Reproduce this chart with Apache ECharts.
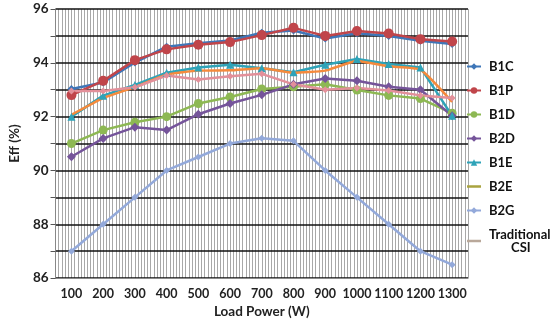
<!DOCTYPE html>
<html><head><meta charset="utf-8">
<script src="https://cdn.jsdelivr.net/npm/echarts@6/dist/echarts.min.js"></script>
<style>html,body{margin:0;padding:0;background:#fff}#c{width:550px;height:324px}</style>
</head><body><div id="c"></div>
<script>
const categories = ['100','200','300','400','500','600','700','800','900','1000','1100','1200','1300'];
const B1C = [93.03, 93.27, 94.01, 94.6, 94.73, 94.83, 95.12, 95.2, 94.9, 95.1, 95.0, 94.82, 94.7];
const B1P = [92.8, 93.33, 94.1, 94.5, 94.67, 94.77, 95.03, 95.3, 95.0, 95.18, 95.09, 94.88, 94.79];
const B1D = [91.0, 91.5, 91.79, 92.0, 92.49, 92.73, 93.03, 93.11, 93.2, 92.99, 92.79, 92.67, 92.13];
const B2D = [90.51, 91.19, 91.61, 91.5, 92.09, 92.49, 92.81, 93.2, 93.42, 93.33, 93.11, 93.0, 92.03];
const B1E = [92.0, 92.78, 93.18, 93.63, 93.83, 93.93, 93.8, 93.65, 93.93, 94.14, 93.96, 93.83, 92.03];
const B2E = [92.07, 92.69, 93.1, 93.56, 93.71, 93.72, 93.8, 93.63, 93.71, 94.07, 93.87, 93.75, 92.55];
const B2G = [87.0, 88.0, 89.0, 90.0, 90.5, 91.0, 91.2, 91.1, 90.0, 89.0, 88.0, 87.0, 86.5];
const CSI = [92.95, 92.95, 93.09, 93.53, 93.38, 93.5, 93.59, 93.2, 93.0, 93.06, 92.97, 92.79, 92.69];

const FONT = 'Lato';
const chart = echarts.init(document.getElementById('c'), null, {renderer:'canvas'});
function s(name, data, color, symbol, size, extra) {
  return Object.assign({
    name, type:'line', data, xAxisIndex:0, yAxisIndex:0,
    symbol, symbolSize:size, showSymbol: symbol !== 'none',
    lineStyle:{color, width:2.5}, itemStyle:{color},
    emphasis:{disabled:true}, z:3
  }, extra||{});
}
const lineIcon = 'path://M0,0H14V2.5H0Z';
chart.setOption({
  animation:false,
  backgroundColor:'#fff',
  grid:{left:35, right:82, top:9, bottom:37},
  legend:{
    orient:'vertical', left:466, top:60, padding:0, itemGap:11, itemWidth:14, itemHeight:8,
    textStyle:{fontFamily:FONT, fontWeight:'bold', fontSize:13, color:'#111', padding:[0,0,0,3], overflow:'none'},
    formatter: n => n === 'Traditional CSI' ? 'Traditional\n       CSI' : n,
    data:[
      {name:'B1C'},{name:'B1P'},{name:'B1D'},{name:'B2D'},{name:'B1E'},
      {name:'B2E', icon:lineIcon, itemStyle:{color:'#A9A33F'}, lineStyle:{color:'#A9A33F'}},
      {name:'B2G'},
      {name:'Traditional CSI', icon:lineIcon, itemStyle:{color:'#B9A89A'}, lineStyle:{color:'#B9A89A'}}
    ]
  },
  xAxis:[
    {type:'category', data:categories, boundaryGap:true,
     axisLine:{show:true, lineStyle:{color:'#888'}}, axisTick:{show:false},
     axisLabel:{fontFamily:FONT, fontWeight:'bold', fontSize:12.5, color:'#222', margin:9, interval:0},
     name:'Load Power (W)', nameLocation:'middle', nameGap:26,
     nameTextStyle:{fontFamily:FONT, fontWeight:'bold', fontSize:13.5, color:'#222'},
     splitLine:{show:false}, z:2},
    {type:'value', min:0, max:130, interval:1, show:true, position:'top',
     axisLine:{show:false}, axisTick:{show:false}, axisLabel:{show:false},
     splitLine:{show:true, lineStyle:{color:'#A8A8A8', width:1}}, z:0}
  ],
  yAxis:[{
    type:'value', min:86, max:96, interval:1,
    axisLine:{show:true, lineStyle:{color:'#888'}}, axisTick:{show:true, length:5, lineStyle:{color:'#555'}},
    axisLabel:{fontFamily:FONT, fontWeight:'bold', fontSize:13.5, color:'#222', margin:7,
      formatter: v => (v % 2 === 0 ? String(v) : '')},
    splitLine:{show:true, lineStyle:{color:'#111', width:1.5}},
    name:'Eff (%)', nameLocation:'middle', nameGap:22, nameRotate:90,
    nameTextStyle:{fontFamily:FONT, fontWeight:'bold', fontSize:13.5, color:'#222'}, z:2
  }],
  series:[
    s('B1C', B1C, '#3E76B8', 'diamond', 8),
    s('B1P', B1P, '#C0454A', 'circle', 10),
    s('B1D', B1D, '#8DB853', 'circle', 9),
    s('B2D', B2D, '#75549A', 'diamond', 9),
    s('B1E', B1E, '#2EA3B8', 'triangle', 8),
    s('B2E', B2E, '#F58A3C', 'none', 0, {smooth:0.15}),
    s('B2G', B2G, '#93A9DA', 'diamond', 7),
    s('Traditional CSI', CSI, '#E3909A', 'diamond', 7)
  ]
});
</script></body></html>
